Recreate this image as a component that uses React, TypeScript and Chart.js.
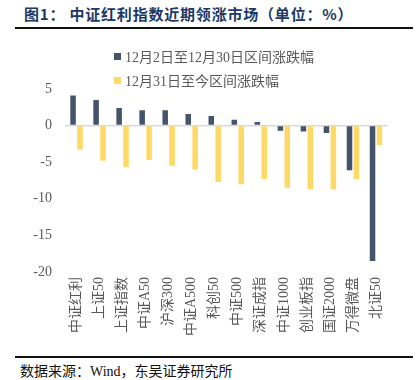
import React, { useEffect, useRef } from "react";
import { Chart, registerables } from "chart.js";

Chart.register(...registerables);

const categories = ["中证红利", "上证50", "上证指数", "中证A50", "沪深300", "中证A500", "科创50", "中证500", "深证成指", "中证1000", "创业板指", "国证2000", "万得微盘", "北证50"];
const series1Name = "12月2日至12月30日区间涨跌幅";
const series2Name = "12月31日至今区间涨跌幅";
const series1 = [4.1, 3.5, 2.4, 2.1, 2.1, 1.6, 1.3, 0.8, 0.5, -0.7, -0.8, -1.0, -6.1, -18.5];
const series2 = [-3.3, -4.8, -5.7, -4.7, -5.5, -6.0, -7.7, -8.0, -7.3, -8.5, -8.7, -8.7, -7.3, -2.7];
const yMin = -20;
const yMax = 5;
const yStep = 5;

const color1 = "#44546A";
const color2 = "#FFD966";
const FONT = "'Liberation Serif', 'Noto Sans CJK SC', serif";

export default function App() {
  const ref = useRef<HTMLCanvasElement | null>(null);
  useEffect(() => {
    document.body.style.margin = "0";
    const chart = new Chart(ref.current as HTMLCanvasElement, {
      type: "bar",
      data: {
        labels: categories,
        datasets: [
          { label: series1Name, data: series1, backgroundColor: color1, categoryPercentage: 0.6, barPercentage: 0.8 },
          { label: series2Name, data: series2, backgroundColor: color2, categoryPercentage: 0.6, barPercentage: 0.8 },
        ],
      },
      options: {
        animation: false,
        responsive: false,
        maintainAspectRatio: false,
        layout: { padding: { top: 49, left: 5, right: 29.5, bottom: 3 } },
        plugins: { legend: { display: false }, tooltip: { enabled: false } },
        scales: {
          x: {
            grid: { display: false, drawTicks: false },
            border: { display: false },
            afterFit: (s: any) => { s.height = 80; },
            ticks: {
              minRotation: 90,
              maxRotation: 90,
              autoSkip: false,
              padding: 5,
              color: "#595959",
              font: { family: FONT, size: 14 },
            },
          },
          y: {
            min: yMin,
            max: yMax,
            afterFit: (s: any) => { s.width = 60; },
            border: { display: false },
            grid: {
              drawTicks: false,
              lineWidth: 1.5,
              color: (ctx: any) => (ctx.tick && ctx.tick.value === 0 ? "#D9D9D9" : "rgba(0,0,0,0)"),
            },
            ticks: {
              stepSize: yStep,
              padding: 13,
              color: "#595959",
              font: { family: FONT, size: 14 },
            },
          },
        },
      },
    });
    return () => chart.destroy();
  }, []);

  const legendItem = (c: string, t: string, top: number) => (
    <div style={{ position: "absolute", left: 114, top, display: "flex", alignItems: "center", fontFamily: FONT, fontSize: 14, color: "#595959", whiteSpace: "nowrap" }}>
      <span style={{ display: "inline-block", width: 7, height: 7, background: c, marginRight: 4 }} />
      <span>{t}</span>
    </div>
  );

  return (
    <div style={{ position: "relative", width: 417, height: 380, background: "#fff", overflow: "hidden" }}>
      <div style={{ position: "absolute", left: 24, top: 3, fontFamily: "'Noto Sans CJK SC', sans-serif", fontWeight: 700, fontSize: 15, letterSpacing: 0.8, color: "#203864", whiteSpace: "nowrap" }}>
        图1：&nbsp;中证红利指数近期领涨市场（单位：%）
      </div>
      <div style={{ position: "absolute", left: 15, top: 27, width: 398, height: 2, background: "#111" }} />
      <canvas ref={ref} width={417} height={315} style={{ position: "absolute", left: 0, top: 40 }} />
      {legendItem(color1, series1Name, 46)}
      {legendItem(color2, series2Name, 70)}
      <div style={{ position: "absolute", left: 15, top: 356, width: 398, height: 1.5, background: "#111" }} />
      <div style={{ position: "absolute", left: 20, top: 360, fontFamily: FONT, fontSize: 14, color: "#111", whiteSpace: "nowrap" }}>
        数据来源：Wind，东吴证券研究所
      </div>
    </div>
  );
}
